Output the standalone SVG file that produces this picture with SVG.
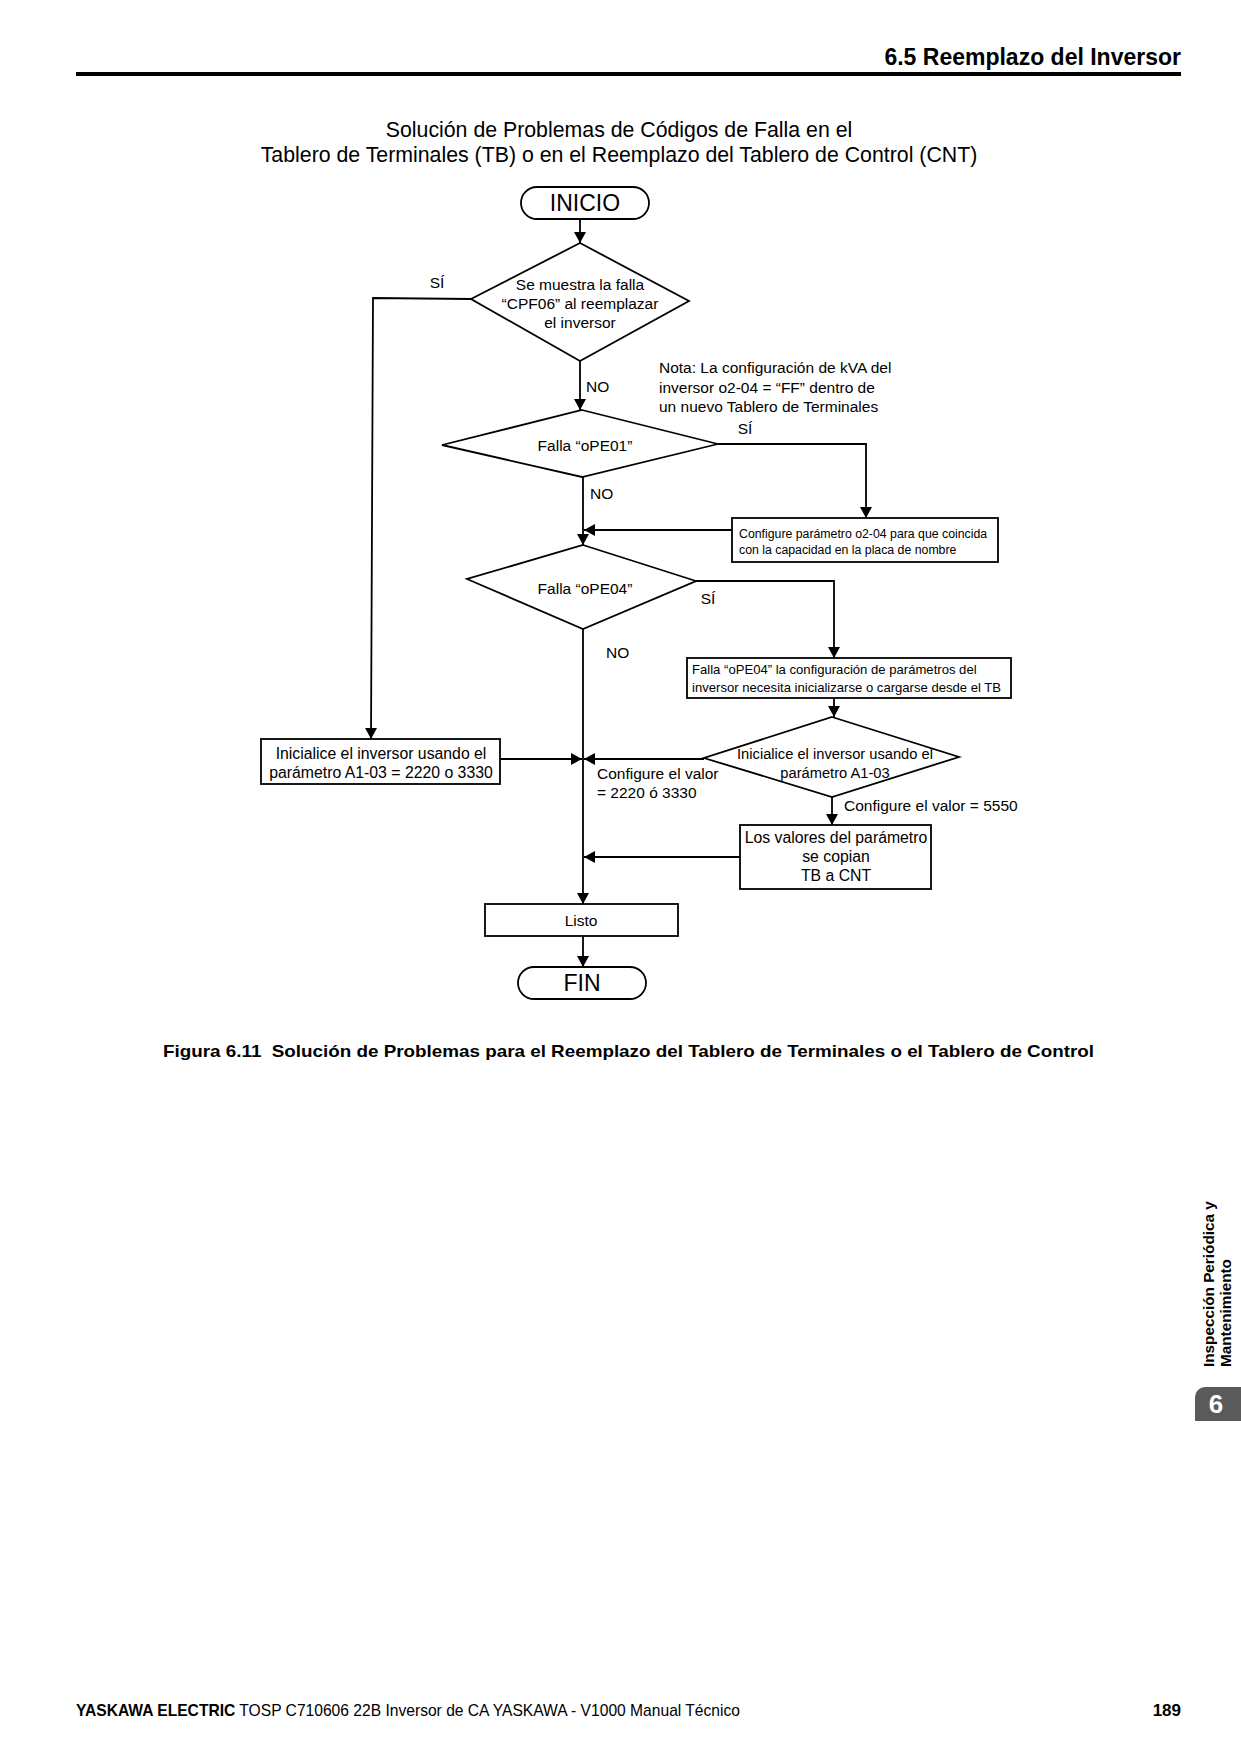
<svg xmlns="http://www.w3.org/2000/svg" width="1241" height="1754" viewBox="0 0 1241 1754">
<defs>
<marker id="arr" markerUnits="userSpaceOnUse" markerWidth="12" markerHeight="12" refX="11" refY="6" orient="auto">
<path d="M0,0 L11,6 L0,12 z" fill="#000"/>
</marker>
<style>
text{font-family:"Liberation Sans",Arial,sans-serif;fill:#000}
.b{font-weight:bold}
.t{font-size:15.5px}
.s{font-size:12.3px}
.m{text-anchor:middle}
.shape{fill:#fff;stroke:#000;stroke-width:1.8}
.con path{fill:none;stroke:#000;stroke-width:1.8;marker-end:url(#arr)}
</style>
</defs>
<rect width="1241" height="1754" fill="#fff"/>

<g id="header">
<text class="b" x="1181" y="65" font-size="23" text-anchor="end">6.5 Reemplazo del Inversor</text>
<rect x="76" y="72" width="1105" height="4" fill="#000"/>
</g>

<g id="title">
<text class="m" x="619" y="137" font-size="21.3">Solución de Problemas de Códigos de Falla en el</text>
<text class="m" x="619" y="162" font-size="21.3">Tablero de Terminales (TB) o en el Reemplazo del Tablero de Control (CNT)</text>
</g>

<g class="con" id="connectors">
<path d="M580,219 V243"/>
<path d="M471,299 L373,298 L371,739"/>
<path d="M580,361 V410"/>
<path d="M718,444 H866 V518"/>
<path d="M732,530 H584"/>
<path d="M583,477 V545"/>
<path d="M696,581 H834 V658"/>
<path d="M834,698 V717"/>
<path d="M583,629 V904"/>
<path d="M500,759 H582"/>
<path d="M704,759 H584"/>
<path d="M832,797 V825"/>
<path d="M740,857 H584"/>
<path d="M583,936 V967"/>
</g>

<g id="inicio">
<rect class="shape" x="521" y="187" width="128" height="32" rx="16"/>
<text class="m" x="585" y="211" font-size="23">INICIO</text>
</g>

<g id="d1">
<polygon class="shape" points="580,243 689,301 580,361 471,299"/>
<text class="t m" x="580" y="290">Se muestra la falla</text>
<text class="t m" x="580" y="309">“CPF06” al reemplazar</text>
<text class="t m" x="580" y="328">el inversor</text>
</g>

<g id="labels">
<text class="t m" x="437" y="288">SÍ</text>
<text class="t" x="586" y="392">NO</text>
<text class="t" x="659" y="373">Nota: La configuración de kVA del</text>
<text class="t" x="659" y="393">inversor o2-04 = “FF” dentro de</text>
<text class="t" x="659" y="412">un nuevo Tablero de Terminales</text>
<text class="t m" x="745" y="434">SÍ</text>
<text class="t" x="590" y="499">NO</text>
<text class="t m" x="708" y="604">SÍ</text>
<text class="t" x="606" y="658">NO</text>
<text class="t" x="597" y="779">Configure el valor</text>
<text class="t" x="597" y="798">= 2220 ó 3330</text>
<text class="t" x="844" y="811">Configure el valor = 5550</text>
</g>

<g id="d2">
<polygon class="shape" points="582,410 718,444 582,477 442,445"/>
<text class="t m" x="585" y="451">Falla “oPE01”</text>
</g>

<g id="box1">
<rect class="shape" x="732" y="518" width="266" height="44"/>
<text class="s" x="739" y="538">Configure parámetro o2-04 para que coincida</text>
<text class="s" x="739" y="554">con la capacidad en la placa de nombre</text>
</g>

<g id="d3">
<polygon class="shape" points="583,545 696,581 583,629 467,579"/>
<text class="t m" x="585" y="594">Falla “oPE04”</text>
</g>

<g id="box2">
<rect class="shape" x="687" y="658" width="324" height="40"/>
<text x="692" y="674" font-size="13.1">Falla “oPE04” la configuración de parámetros del</text>
<text x="692" y="692" font-size="13.1">inversor necesita inicializarse o cargarse desde el TB</text>
</g>

<g id="box-left">
<rect class="shape" x="261" y="739" width="239" height="45"/>
<text class="m" x="381" y="759" font-size="15.8">Inicialice el inversor usando el</text>
<text class="m" x="381" y="778" font-size="15.8">parámetro A1-03 = 2220 o 3330</text>
</g>

<g id="d4">
<polygon class="shape" points="832,717 959,757 832,797 704,758"/>
<text class="m" x="835" y="759" font-size="14.7">Inicialice el inversor usando el</text>
<text class="m" x="835" y="778" font-size="14.7">parámetro A1-03</text>
</g>

<g id="box3">
<rect class="shape" x="740" y="825" width="191" height="64"/>
<text class="m" x="836" y="843" font-size="15.8">Los valores del parámetro</text>
<text class="m" x="836" y="862" font-size="15.8">se copian</text>
<text class="m" x="836" y="881" font-size="15.8">TB a CNT</text>
</g>

<g id="listo">
<rect class="shape" x="485" y="904" width="193" height="32"/>
<text class="t m" x="581" y="926">Listo</text>
</g>

<g id="fin">
<rect class="shape" x="518" y="967" width="128" height="32" rx="16"/>
<text class="m" x="582" y="991" font-size="23">FIN</text>
</g>

<g id="caption">
<text class="b" x="163" y="1057" font-size="17" textLength="931" lengthAdjust="spacingAndGlyphs">Figura 6.11&#160; Solución de Problemas para el Reemplazo del Tablero de Terminales o el Tablero de Control</text>
</g>

<g id="side-tab">
<text class="b" transform="translate(1214,1367) rotate(-90)" font-size="15.3">Inspección Periódica y</text>
<text class="b" transform="translate(1231,1367) rotate(-90)" font-size="15.3">Mantenimiento</text>
<path d="M1205,1387 H1241 V1421 H1195 V1397 A10,10 0 0 1 1205,1387 z" fill="#5a5a5a"/>
<text class="b m" x="1216" y="1413" font-size="26" style="fill:#fff">6</text>
</g>

<g id="footer">
<text x="76" y="1716" font-size="17" textLength="664" lengthAdjust="spacingAndGlyphs"><tspan class="b">YASKAWA ELECTRIC</tspan> TOSP C710606 22B Inversor de CA YASKAWA - V1000 Manual Técnico</text>
<text class="b" x="1181" y="1716" font-size="17" text-anchor="end">189</text>
</g>
</svg>
